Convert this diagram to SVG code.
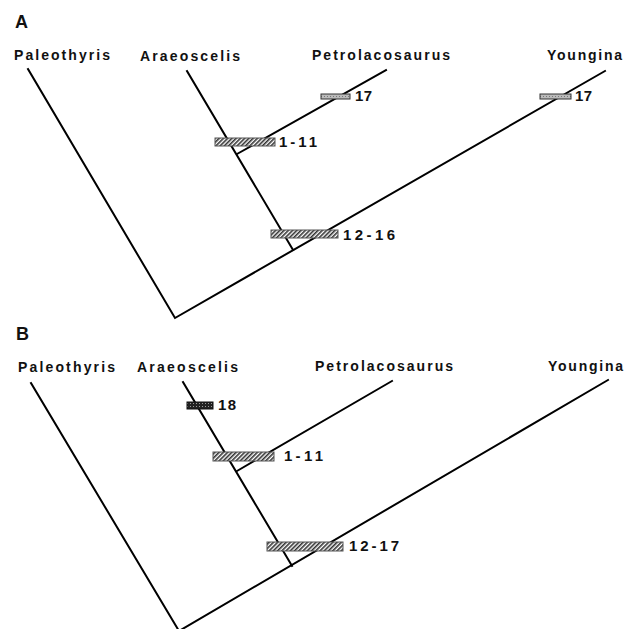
<svg xmlns="http://www.w3.org/2000/svg" width="636" height="629" viewBox="0 0 636 629">
<defs>
<pattern id="hatch" patternUnits="userSpaceOnUse" width="3" height="3" patternTransform="rotate(45)">
<rect width="3" height="3" fill="#fff"/>
<rect width="1.6" height="3" fill="#333"/>
</pattern>
<pattern id="light" patternUnits="userSpaceOnUse" width="3" height="3">
<rect width="3" height="3" fill="#bbb"/>
<rect width="1" height="1" fill="#777"/>
</pattern>
<pattern id="dark" patternUnits="userSpaceOnUse" width="3" height="3">
<rect width="3" height="3" fill="#222"/>
<rect x="1" y="1" width="1" height="1" fill="#999"/>
</pattern>
</defs>
<style>
.br{stroke:#000;stroke-width:2;fill:none;stroke-linecap:square}
.t{font-family:"Liberation Sans",Arial,sans-serif;font-size:14px;font-weight:bold;fill:#111}
.n{font-family:"Liberation Sans",Arial,sans-serif;font-size:15px;font-weight:bold;fill:#111}
.h{font-family:"Liberation Sans",Arial,sans-serif;font-size:18px;font-weight:bold;fill:#111}
.hb{fill:url(#hatch);stroke:#555;stroke-width:1}
.lb{fill:url(#light);stroke:#333;stroke-width:1}
.db{fill:url(#dark);stroke:#111;stroke-width:1}
</style>
<rect width="636" height="629" fill="#fff"/>

<!-- Panel A -->
<text class="h" x="15" y="28">A</text>
<g id="A-Paleothyris"><text class="t" x="14" y="60" textLength="96" lengthAdjust="spacing">Paleothyris</text></g>
<g id="A-Araeoscelis"><text class="t" x="140" y="61" textLength="100" lengthAdjust="spacing">Araeoscelis</text></g>
<g id="A-Petrolacosaurus"><text class="t" x="312" y="60" textLength="138" lengthAdjust="spacing">Petrolacosaurus</text></g>
<g id="A-Youngina"><text class="t" x="547" y="60" textLength="75" lengthAdjust="spacing">Youngina</text></g>
<g id="A-connectors">
<path class="br" d="M28,69 L175,318 L605,71"/>
<path class="br" d="M187,71 L293,250"/>
<path class="br" d="M237,154 L386,70"/>
</g>
<g id="A-bars">
<rect class="hb" x="215" y="138" width="60" height="8"/>
<text class="n" x="279" y="147" textLength="38" lengthAdjust="spacing">1-11</text>
<rect class="hb" x="271" y="230" width="67" height="8"/>
<text class="n" x="343" y="240" textLength="52" lengthAdjust="spacing">12-16</text>
<rect class="lb" x="321" y="94" width="29" height="5"/>
<text class="n" x="355" y="101" textLength="17" lengthAdjust="spacing">17</text>
<rect class="lb" x="540" y="94" width="31" height="5"/>
<text class="n" x="575" y="101" textLength="17" lengthAdjust="spacing">17</text>
</g>

<!-- Panel B -->
<text class="h" x="16" y="340">B</text>
<g id="B-Paleothyris"><text class="t" x="18" y="372" textLength="97" lengthAdjust="spacing">Paleothyris</text></g>
<g id="B-Araeoscelis"><text class="t" x="137" y="372" textLength="101" lengthAdjust="spacing">Araeoscelis</text></g>
<g id="B-Petrolacosaurus"><text class="t" x="315" y="371" textLength="138" lengthAdjust="spacing">Petrolacosaurus</text></g>
<g id="B-Youngina"><text class="t" x="548" y="371" textLength="75" lengthAdjust="spacing">Youngina</text></g>
<g id="B-connectors">
<path class="br" d="M31,383 L179,631 L608,380"/>
<path class="br" d="M183,382 L292,566"/>
<path class="br" d="M237,471 L392,381"/>
</g>
<g id="B-bars">
<rect class="db" x="187" y="402" width="26" height="7"/>
<text class="n" x="218" y="410" textLength="18" lengthAdjust="spacing">18</text>
<rect class="hb" x="213" y="452" width="61" height="9"/>
<text class="n" x="284" y="461" textLength="39" lengthAdjust="spacing">1-11</text>
<rect class="hb" x="267" y="542" width="76" height="9"/>
<text class="n" x="349" y="551" textLength="50" lengthAdjust="spacing">12-17</text>
</g>
</svg>
